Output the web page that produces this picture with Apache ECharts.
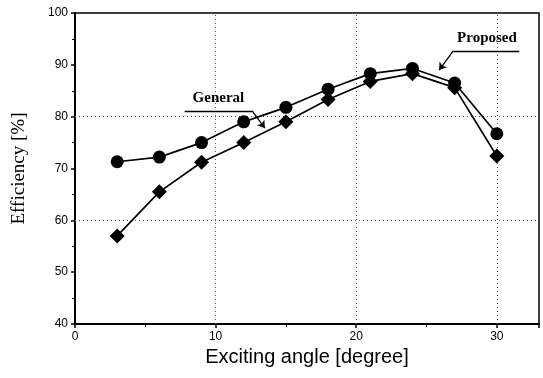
<!DOCTYPE html>
<html>
<head>
<meta charset="utf-8">
<script src="https://cdn.jsdelivr.net/npm/echarts@6/dist/echarts.min.js"></script>
<style>
  html, body { margin: 0; padding: 0; background: #fff; }
  #chart { width: 543px; height: 378px; }
</style>
</head>
<body>
<div id="chart"></div>
<script>
// exciting angle [degree]
var angles = [3, 6, 9, 12, 15, 18, 21, 24, 27, 30]
// efficiency [%]
var proposed = [71.3, 72.2, 75.0, 79.0, 81.8, 85.3, 88.3, 89.3, 86.5, 76.7]
var general = [57.0, 65.5, 71.2, 75.0, 79.0, 83.3, 86.8, 88.3, 85.6, 72.4]
var gridY = [60, 80]
var gridX = [10, 20, 30]

function pairs(ys) {
  return angles.map(function (a, i) { return [a, ys[i]] })
}

var dotted = { color: '#555', type: [1, 3], width: 1 }

var chart = echarts.init(document.getElementById('chart'))
var option = {
  backgroundColor: '#fff',
  animation: false,
  grid: {
    left: 75, right: 4, top: 13, bottom: 54,
    show: true,
    borderColor: '#000',
    borderWidth: 1.5
  },
  xAxis: {
    type: 'value',
    min: 0, max: 33, interval: 10,
    name: 'Exciting angle [degree]',
    nameLocation: 'middle',
    nameGap: 23,
    nameTextStyle: { fontFamily: 'Liberation Sans', fontSize: 20, color: '#000' },
    axisLine: { lineStyle: { color: '#000', width: 2 } },
    axisTick: { show: true, length: 4, lineStyle: { color: '#000', width: 1.5 } },
    minorTick: { show: true, splitNumber: 2, length: 3, lineStyle: { color: '#000' } },
    axisLabel: { fontFamily: 'Liberation Sans', fontSize: 12, color: '#000', margin: 7,
      showMaxLabel: false },
    splitLine: { show: false }
  },
  yAxis: {
    type: 'value',
    min: 40, max: 100, interval: 10,
    name: 'Efficiency [%]',
    nameLocation: 'middle',
    nameGap: 46,
    nameTextStyle: { fontFamily: 'Liberation Serif', fontSize: 19, color: '#000' },
    axisLine: { lineStyle: { color: '#000', width: 2 } },
    axisTick: { show: true, length: 4, lineStyle: { color: '#000', width: 1.5 } },
    minorTick: { show: true, splitNumber: 2, length: 3, lineStyle: { color: '#000' } },
    axisLabel: { fontFamily: 'Liberation Sans', fontSize: 12, color: '#000', margin: 7 },
    splitLine: { show: false }
  },
  series: [
    {
      name: 'Proposed',
      type: 'line',
      data: pairs(proposed),
      symbol: 'circle',
      symbolSize: 13,
      itemStyle: { color: '#000' },
      lineStyle: { color: '#000', width: 1.7 },
      z: 5,
      markLine: {
        silent: true,
        symbol: 'none',
        lineStyle: dotted,
        label: { show: false },
        data: gridY.map(function (v) { return { yAxis: v } })
          .concat(gridX.map(function (v) { return { xAxis: v } }))
      }
    },
    {
      name: 'General',
      type: 'line',
      data: pairs(general),
      symbol: 'diamond',
      symbolSize: 15,
      itemStyle: { color: '#000' },
      lineStyle: { color: '#000', width: 1.7 },
      z: 5
    },
    {
      // annotation leaders
      name: 'labels',
      type: 'line',
      data: [],
      z: 6,
      markLine: {
        silent: true,
        lineStyle: { color: '#000', width: 1.3, type: 'solid' },
        symbolSize: 7,
        label: { show: false },
        data: [
          [{ coord: [7.8, 81.1], symbol: 'none' },
           { coord: [12.6, 81.1], symbol: 'none' }],
          [{ coord: [12.6, 81.1], symbol: 'none' },
           { coord: [13.5, 77.8], symbol: 'arrow' }],
          [{ coord: [26.9, 92.7], symbol: 'none' },
           { coord: [31.6, 92.7], symbol: 'none' }],
          [{ coord: [26.9, 92.7], symbol: 'none' },
           { coord: [25.9, 89.0], symbol: 'arrow' }]
        ]
      },
      markPoint: {
        silent: true,
        symbol: 'rect',
        symbolSize: 1,
        itemStyle: { color: 'transparent' },
        label: {
          show: true,
          fontFamily: 'Liberation Serif',
          fontWeight: 'bold',
          fontSize: 15,
          color: '#000'
        },
        data: [
          { coord: [10.2, 83.6], value: 'General', label: { formatter: 'General' } },
          { coord: [29.3, 95.2], value: 'Proposed', label: { formatter: 'Proposed' } }
        ]
      }
    }
  ]
}
chart.setOption(option)

window.onresize = function () {
  chart.resize()
}
</script>
</body>
</html>
